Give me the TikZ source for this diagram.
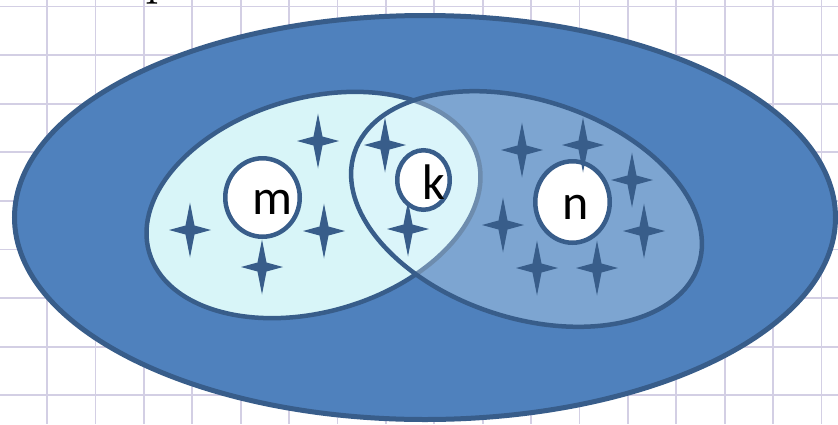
\documentclass[tikz,border=0pt]{standalone}
\usepackage{fontspec}
\usepackage{tikz}
\usetikzlibrary{shapes.geometric}
\newfontfamily\calib{Carlito}
\definecolor{officeblue}{HTML}{4F81BD}
\definecolor{officenavy}{HTML}{385D8A}
\definecolor{paleaqua}{HTML}{D8F5F8}
\definecolor{skyveil}{HTML}{E4F6FF}
\definecolor{gridlilac}{HTML}{D3CFE4}

\tikzset{
  hole/.style={ellipse,draw=officenavy,line width=4.5pt,fill=white,inner sep=0pt},
  tag/.style={inner sep=0pt,font=\calib\fontsize{50}{50}\selectfont},
  spark/.pic={\fill[officenavy] (0,-27.5) -- (4.5,-4.5) -- (21,0) -- (4.5,4.5) -- (0,27.5) -- (-4.5,4.5) -- (-21,0) -- (-4.5,-4.5) -- cycle;}
}

\begin{document}
\begin{tikzpicture}[x=1pt,y=-1pt]
  \useasboundingbox (0,0) rectangle (838,424);
  \clip (0,0) rectangle (838,424);
  \fill[white] (0,0) rectangle (838,424);
  \foreach \gx in {0,...,16}
    \draw[gridlilac,line width=1.8pt] ({47+48.4*\gx},0) -- ++(0,424);
  \foreach \gy in {0,...,8}
    \draw[gridlilac,line width=1.8pt] (0,{6.5+48.6*\gy}) -- ++(838,0);
  \node[anchor=base west,inner sep=0pt,font=\fontsize{55}{60}\selectfont] (title) at (145,-6.5) {p};

  \draw[officenavy,fill=officeblue,line width=5pt] (425,217.5) ellipse [x radius=410.5,y radius=202];
  \draw[officenavy,fill=paleaqua,line width=4.5pt,rotate around={16:(313.5,205)}]
    (313.5,205) ellipse [x radius=171,y radius=107];
  \draw[officenavy,fill=skyveil,fill opacity=0.31,line width=4.5pt,rotate around={-18:(526.5,209)}]
    (526.5,209) ellipse [x radius=181,y radius=109];

  \node[hole,minimum width=74.5pt,minimum height=78.5pt] (m) at (262.5,197.5) {};
  \node[hole,minimum width=52.5pt,minimum height=59.5pt] (k) at (423.5,180) {};
  \node[hole,minimum width=74.5pt,minimum height=81.5pt] (n) at (572.5,202) {};

  \foreach \sx/\sy in {
    318/141,190/230,262/267,324/231,385/145,408/229,
    522/150,583/145,632/180,503/225,644/231,537/268,597/268}
    \pic at (\sx,\sy) {spark};

  \node[tag] (m-label) at (272.5,202) {m};
  \node[tag] (k-label) at (434,182) {k};
  \node[tag] (n-label) at (576,207.5) {n};
\end{tikzpicture}
\end{document}
